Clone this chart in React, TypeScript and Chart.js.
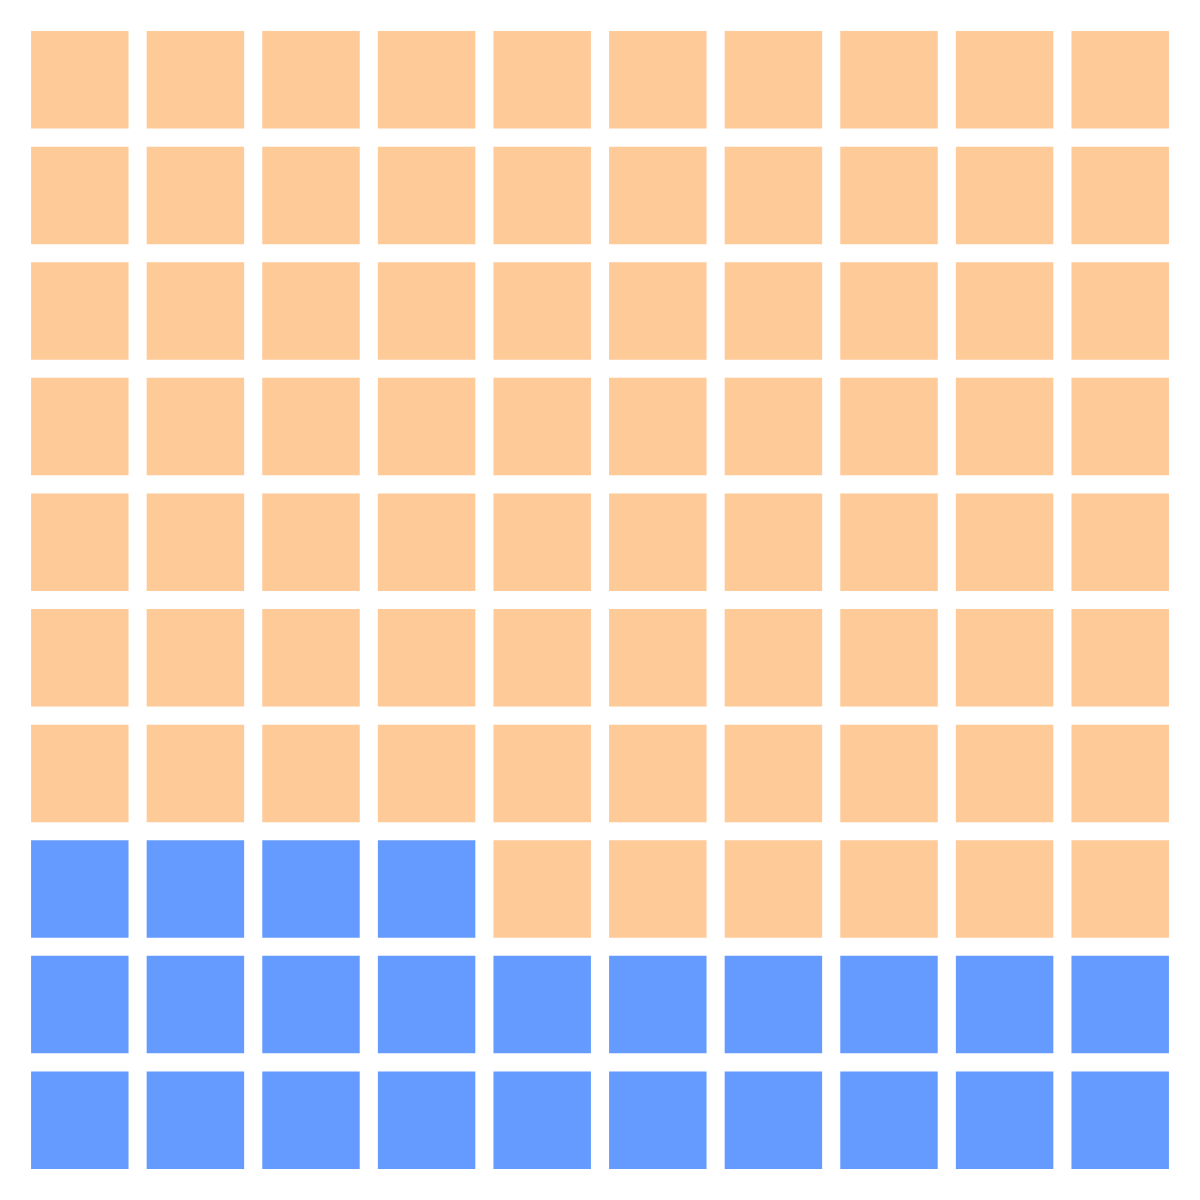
import React, { useEffect, useRef } from 'react';
import { Chart, registerables } from 'chart.js';

Chart.register(...registerables);

// Waffle grid: 10 columns x 10 rows, rows listed top to bottom.
const columnLabels = ['C1', 'C2', 'C3', 'C4', 'C5', 'C6', 'C7', 'C8', 'C9', 'C10'];
const rowLabels = ['R1', 'R2', 'R3', 'R4', 'R5', 'R6', 'R7', 'R8', 'R9', 'R10'];
const waffleRows = [
  'OOOOOOOOOO',
  'OOOOOOOOOO',
  'OOOOOOOOOO',
  'OOOOOOOOOO',
  'OOOOOOOOOO',
  'OOOOOOOOOO',
  'OOOOOOOOOO',
  'BBBBOOOOOO',
  'BBBBBBBBBB',
  'BBBBBBBBBB',
];
const categoryNames: Record<string, string> = { O: 'Group A', B: 'Group B' };
const categoryColors: Record<string, string> = { O: '#FECA98', B: '#659BFF' };

export default function App() {
  const canvasRef = useRef<HTMLCanvasElement | null>(null);

  useEffect(() => {
    document.body.style.margin = '0';
    const canvas = canvasRef.current;
    if (!canvas) return;
    const nRows = waffleRows.length;
    const datasets = waffleRows.map((row, i) => {
      const bottom = nRows - 1 - i;
      return {
        label: rowLabels[i],
        data: columnLabels.map(() => [bottom, bottom + 1] as [number, number]),
        backgroundColor: row.split('').map((c) => categoryColors[c]),
        borderColor: '#ffffff',
        borderWidth: 9.4,
        borderSkipped: false as const,
        barPercentage: 1,
        categoryPercentage: 1,
        grouped: false,
        categories: row.split('').map((c) => categoryNames[c]),
      };
    });
    const chart = new Chart(canvas, {
      type: 'bar',
      data: { labels: columnLabels, datasets: datasets as any },
      options: {
        animation: false,
        responsive: true,
        maintainAspectRatio: false,
        layout: { padding: 22 },
        plugins: {
          legend: { display: false },
          tooltip: { enabled: false },
          title: { display: false },
        },
        scales: {
          x: { type: 'category', offset: true, display: false, grid: { display: false } },
          y: { type: 'linear', min: 0, max: nRows, display: false, grid: { display: false } },
        },
      },
    });
    return () => chart.destroy();
  }, []);

  return (
    <div style={{ width: 1200, height: 1200, position: 'relative', background: '#ffffff' }}>
      <canvas ref={canvasRef} />
    </div>
  );
}
